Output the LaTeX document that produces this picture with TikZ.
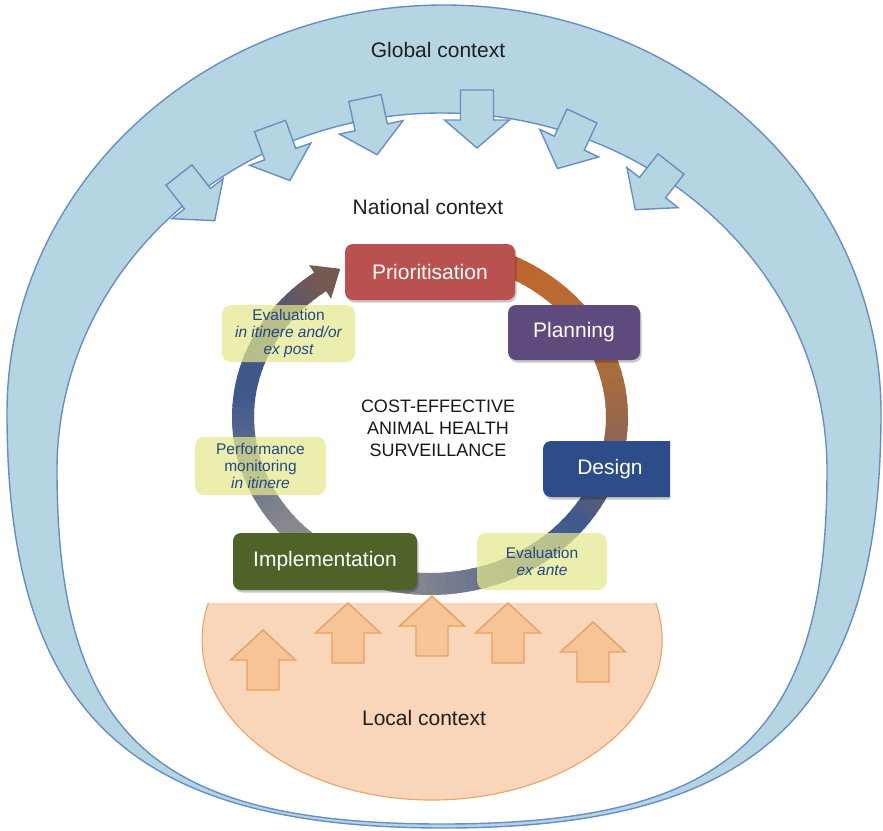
\documentclass[tikz,border=0pt]{standalone}
\usepackage{fontspec}
\setmainfont{Liberation Sans}
\usetikzlibrary{shadows}

% palette
\definecolor{bandblue}{RGB}{182,213,226}
\definecolor{bandline}{RGB}{104,142,196}
\definecolor{localfill}{RGB}{249,214,186}
\definecolor{localline}{RGB}{234,168,112}
\definecolor{arrowfill}{RGB}{246,196,150}
\definecolor{arrowline}{RGB}{232,160,98}
\definecolor{prio}{RGB}{185,82,79}
\definecolor{plan}{RGB}{95,74,126}
\definecolor{designc}{RGB}{44,77,138}
\definecolor{impl}{RGB}{79,98,40}
\definecolor{evalfill}{RGB}{228,232,140}
\definecolor{evaltext}{RGB}{35,72,132}
% colours along the cycle ring
\definecolor{rc0}{RGB}{190,100,45}
\definecolor{rc1}{RGB}{188,105,50}
\definecolor{rc2}{RGB}{168,108,62}
\definecolor{rc3}{RGB}{140,100,85}
\definecolor{rc4}{RGB}{62,88,140}
\definecolor{rc5}{RGB}{100,110,140}
\definecolor{rc6}{RGB}{140,140,146}
\definecolor{rc7}{RGB}{136,136,142}
\definecolor{rc8}{RGB}{100,112,140}
\definecolor{rc9}{RGB}{62,88,140}
\definecolor{rc10}{RGB}{70,85,130}
\definecolor{rc11}{RGB}{118,90,80}

\begin{document}
\begin{tikzpicture}[x=1pt,y=-1pt,
  band/.style={draw=bandline, line width=1.4pt},
  ctxtext/.style={font=\fontsize{21}{25}\selectfont, text=black!88, inner sep=0pt},
  stagebox/.style={rounded corners=8pt, text=white, inner sep=0pt,
    font=\fontsize{21}{25}\selectfont,
    drop shadow={shadow xshift=1.5pt, shadow yshift=-2.5pt, opacity=0.22, fill=black}},
  evalbox/.style={rounded corners=9pt, fill=evalfill, fill opacity=0.72, text opacity=1,
    text=evaltext, inner sep=0pt, align=center,
    font=\fontsize{15.5}{17}\selectfont},
  garrow/.style={draw=bandline, fill=bandblue, line width=1.4pt, line join=miter},
  oarrow/.style={draw=arrowline, fill=arrowfill, line width=1.4pt, line join=miter},
  darr/.pic={\draw[garrow] (0,-16.5) -- (30,-16.5) -- (30,-32.5) -- (58,0)
      -- (30,32.5) -- (30,16.5) -- (0,16.5) -- cycle;},
  uarr/.pic={\draw[oarrow] (-16,0) -- (-16,-30) -- (-32.5,-30) -- (0,-60)
      -- (32.5,-30) -- (16,-30) -- (16,0) -- cycle;}
]
\useasboundingbox (0,0) rectangle (883,830);
\fill[white] (0,0) rectangle (883,830);

% global context band: elliptic top, fuller rounded bottom
\draw[band, fill=bandblue] (7,413)
  arc[start angle=180, end angle=360, x radius=437, y radius=408]
  .. controls (881,712) and (759,828) .. (444,828)
  .. controls (129,828) and (7,712) .. (7,413) -- cycle;
% national context area
\draw[band, fill=white] (57,470)
  arc[start angle=180, end angle=360, x radius=385, y radius=357]
  .. controls (827,735.5) and (730,824) .. (442,824)
  .. controls (154,824) and (57,735.5) .. (57,470) -- cycle;

% global influences pointing inwards
\pic[rotate=-52] at (179,175) {darr};
\pic[rotate=-70] at (270,126) {darr};
\pic[rotate=-78] at (365,98) {darr};
\pic[rotate=-90] at (477,90) {darr};
\pic[rotate=-115] at (582,116) {darr};
\pic[rotate=-128] at (671,164) {darr};

% surveillance cycle ring
\foreach \a/\b/\ca/\cb in {-72/-50/rc0/rc1, -50/-15/rc1/rc2, -15/12/rc2/rc3,
    12/38/rc3/rc4, 38/70/rc4/rc5, 70/100/rc5/rc6, 100/140/rc6/rc7,
    140/165/rc7/rc8, 165/188/rc8/rc9, 188/212/rc9/rc10, 212/234/rc10/rc11}{
  \foreach \i in {0,...,9}{
    \pgfmathsetmacro\ts{\a+(\b-\a)*\i/10}
    \pgfmathsetmacro\te{\a+(\b-\a)*(\i+1)/10+0.8}
    \pgfmathtruncatemacro\p{95-10*\i}
    \draw[line width=22pt, draw=\ca!\p!\cb]
      ({430+187*cos(\ts)},{417+167*sin(\ts)})
      arc[start angle=\ts, end angle=\te, x radius=187, y radius=167];
  }
}
\fill[rc11] (309.2,265.1) -- (340.2,268.8) -- (331.0,298.7) -- cycle;

% local context
\fill[localfill] (655.8,603) arc[start angle=-13.37, end angle=193.37,
  x radius=230, y radius=160] -- cycle;
\draw[localline, line width=1.2pt] (655.8,603) arc[start angle=-13.37,
  end angle=193.37, x radius=230, y radius=160];
\pic at (263,690) {uarr};
\pic at (348,663) {uarr};
\pic at (432,656) {uarr};
\pic at (508,663) {uarr};
\pic at (593,682) {uarr};

% stages of the cycle
\node[stagebox, fill=prio, minimum width=170pt, minimum height=56pt]
  (prioritisation) at (430,272) {Prioritisation};
\node[stagebox, fill=plan, minimum width=132pt, minimum height=55pt]
  (planning) at (574,332.5) {Planning};
\begin{scope}
  \clip (520,420) rectangle (670,520);
  \node[stagebox, fill=designc, minimum width=134pt, minimum height=56pt]
    (design) at (610,469) {Design};
\end{scope}
\node[stagebox, fill=impl, minimum width=184pt, minimum height=57pt]
  (implementation) at (325,561.5) {Implementation};

% evaluation steps
\node[evalbox, minimum width=133pt, minimum height=57pt] (evalpost) at (288.5,333.5)
  {Evaluation\\\itshape in itinere and/or\\\itshape ex post};
\node[evalbox, minimum width=131pt, minimum height=58pt] (perf) at (260.5,466)
  {Performance\\monitoring\\\itshape in itinere};
\node[evalbox, minimum width=130pt, minimum height=57pt] (evalante) at (542,561.5)
  {Evaluation\\\itshape ex ante};

% labels
\node[ctxtext] (global) at (438,50) {Global context};
\node[ctxtext] (national) at (428,207) {National context};
\node[ctxtext] (local) at (424,718) {Local context};
\node[inner sep=0pt, align=center, text=black!90, font=\fontsize{18}{22}\selectfont]
  (core) at (438,428) {COST-EFFECTIVE\\ANIMAL HEALTH\\SURVEILLANCE};
\end{tikzpicture}
\end{document}
